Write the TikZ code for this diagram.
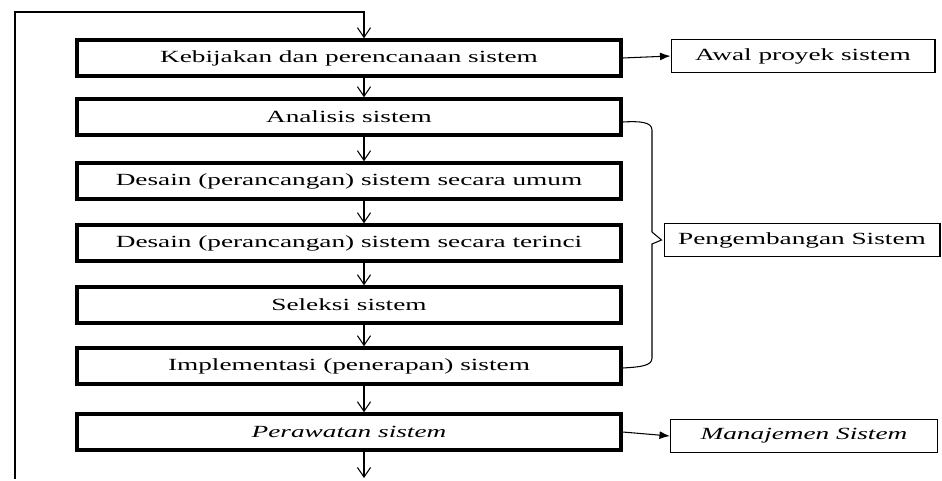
\documentclass[tikz,border=0pt]{standalone}
\usepackage{fontspec}
\setmainfont{Liberation Serif}[FakeStretch=1.6]
\usetikzlibrary{arrows.meta}
\begin{document}
\begin{tikzpicture}[x=0.02cm,y=-0.02cm,
    font=\fontsize{9.7}{11}\selectfont,
    stage/.style={draw,line width=2pt,minimum width=10.88cm,minimum height=0.72cm,inner sep=0pt},
    note/.style={draw,line width=0.6pt,minimum height=0.67cm,inner sep=0pt},
    flow/.style={line width=0.6pt,-{Straight Barb[length=5.5pt,width=7.5pt]}},
    link/.style={line width=0.6pt,-{Latex[length=6pt,width=4.5pt]}}]
    \useasboundingbox (0,0) rectangle (942,480);
    \coordinate (ax) at (364,0);
    \node[stage] (keb) at (349,58) {Kebijakan dan perencanaan sistem};
    \node[stage] (ana) at (349,117) {Analisis sistem};
    \node[stage] (dsu) at (349,181) {Desain (perancangan) sistem secara umum};
    \node[stage] (dst) at (349,243) {Desain (perancangan) sistem secara terinci};
    \node[stage] (sel) at (349,305) {Seleksi sistem};
    \node[stage] (imp) at (349,366) {Implementasi (penerapan) sistem};
    \node[stage] (per) at (349,432) {\itshape Perawatan sistem};
    \node[note,minimum width=5.28cm] (awal) at (803,56) {Awal proyek sistem};
    \node[note,minimum width=5.52cm] (pen) at (802,240) {Pengembangan Sistem};
    \node[note,minimum width=5.34cm] (man) at (804,436) {\itshape Manajemen Sistem};
    % alur utama
    \coordinate (loop) at (15,479);
    \draw[flow] (loop) -- (15,12) -- (ax |- 0,12) -- (keb.north -| ax);
    \draw[flow] (keb.south -| ax) -- (ana.north -| ax);
    \draw[flow] (ana.south -| ax) -- (dsu.north -| ax);
    \draw[flow] (dsu.south -| ax) -- (dst.north -| ax);
    \draw[flow] (dst.south -| ax) -- (sel.north -| ax);
    \draw[flow] (sel.south -| ax) -- (imp.north -| ax);
    \draw[flow] (imp.south -| ax) -- (per.north -| ax);
    \coordinate (end) at (364,478);
    \draw[flow] (per.south -| ax) -- (end);
    % keterangan
    \draw[link] (keb.east) -- (awal.west);
    \draw[link] (per.east) -- (man.west);
    \draw[line width=0.6pt] ([yshift=-0.1cm]ana.east) .. controls (640,121) and (652,122) .. (652,130)
      -- (652,232) -- ([xshift=-0.04cm]pen.west) -- (652,244) -- (652,358)
      .. controls (652,366) and (640,367) .. ([yshift=-0.04cm]imp.east);
\end{tikzpicture}
\end{document}
